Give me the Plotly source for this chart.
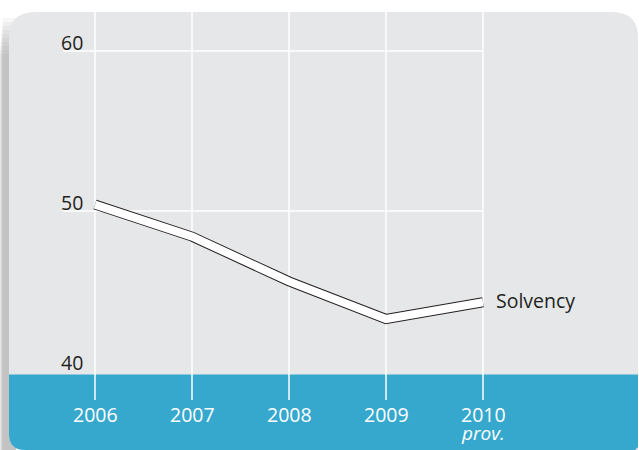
import plotly.graph_objects as go

# Solvency ratio by year (2010 provisional)
years = [2006, 2007, 2008, 2009, 2010]
year_labels = ["2006", "2007", "2008", "2009", "2010"]
solvency = [50.4, 48.4, 45.6, 43.25, 44.3]
y_ticks = [40, 50, 60]
y_grid = [50, 60]
series_name = "Solvency"
provisional_note = "prov."

W, H = 639, 450
GRAY = "#e6e7e9"
BLUE = "#37a8cd"
INK = "#231f20"
FONT = "Open Sans, Noto Sans, sans-serif"
FS = 19.5

# pixel -> paper helpers (plot area covers the whole page)
def px(x):
    return x / W

def py(y):
    return 1 - y / H

# axis scale: 97 px per year, 16 px per unit
x_per_px = 1 / 97.0
y_per_px = 1 / 16.0
x_range = [years[0] - 95 * x_per_px, years[0] + (W - 95) * x_per_px]
y_range = [60 - (H - 51) * y_per_px, 60 + 51 * y_per_px]

fig = go.Figure()

# white ribbon with dark outline
fig.add_trace(go.Scatter(x=years, y=solvency, mode="lines",
                         line=dict(color=INK, width=10), hoverinfo="skip", showlegend=False))
fig.add_trace(go.Scatter(x=years, y=solvency, mode="lines",
                         line=dict(color="white", width=8), hoverinfo="skip", showlegend=False))

shapes = []

# soft drop shadow on the left of the panel, built up from faint layers
for i in range(10):
    shapes.append(dict(type="rect", xref="paper", yref="paper",
                       x0=px(max(0, 3 - i * 0.4)), x1=px(16), y0=0, y1=py(18 + i * 4),
                       fillcolor="#96979a", opacity=0.08, line=dict(width=0), layer="below"))

# panel with rounded corners
L, T, R, B = 9, 12, 638, 450
r = 26
rb = 16
panel = (f"M {px(L)},{py(B - rb)} L {px(L)},{py(T + r)} "
         f"Q {px(L)},{py(T)} {px(L + r)},{py(T)} "
         f"L {px(R - r)},{py(T)} Q {px(R)},{py(T)} {px(R)},{py(T + r)} "
         f"L {px(R)},{py(B)} L {px(L + rb)},{py(B)} "
         f"Q {px(L)},{py(B)} {px(L)},{py(B - rb)} Z")
shapes.append(dict(type="path", xref="paper", yref="paper", path=panel,
                   fillcolor=GRAY, line=dict(width=0), layer="below"))

# blue axis band
band_top = 374.5
band = (f"M {px(L)},{py(band_top)} L {px(R)},{py(band_top)} L {px(R)},{py(B - 3)} "
        f"L {px(R - 3)},{py(B)} L {px(L + rb)},{py(B)} "
        f"Q {px(L)},{py(B)} {px(L)},{py(B - rb)} Z")
shapes.append(dict(type="path", xref="paper", yref="paper", path=band,
                   fillcolor=BLUE, line=dict(width=0), layer="below"))

# vertical gridlines at each year
for yr in years:
    shapes.append(dict(type="line", xref="x", yref="paper", x0=yr, x1=yr,
                       y0=py(T), y1=py(400), line=dict(color="white", width=1.5), layer="below"))

# horizontal gridlines
for v in y_grid:
    shapes.append(dict(type="line", xref="x", yref="y", x0=years[0] - 32 * x_per_px,
                       x1=years[-1], y0=v, y1=v,
                       line=dict(color="white", width=1.5), layer="below"))

annotations = []
for v in y_ticks:
    annotations.append(dict(x=years[0], y=v, xref="x", yref="y", text=str(v),
                            showarrow=False, xanchor="right", yanchor="middle",
                            xshift=-10, yshift=9,
                            font=dict(family=FONT, size=FS, color=INK)))

# year labels; the last one carries the provisional note on a second line
base = 14.2  # sets the line spacing between the year and the note
for i, (yr, lab) in enumerate(zip(years, year_labels)):
    txt = f"<span style='font-size:{FS}px'>{lab}</span>"
    if i == len(years) - 1:
        txt += f"<br><i><span style='font-size:{FS - 0.5}px'>{provisional_note}</span></i>"
    annotations.append(dict(x=yr, y=py(399), xref="x", yref="paper", text=txt,
                            showarrow=False, xanchor="center", yanchor="top",
                            font=dict(family=FONT, size=base, color="white")))

annotations.append(dict(x=years[-1], y=solvency[-1], xref="x", yref="y", text=series_name,
                        showarrow=False, xanchor="left", yanchor="middle", xshift=11, yshift=2,
                        font=dict(family=FONT, size=FS, color=INK)))

fig.update_layout(
    width=W, height=H,
    margin=dict(l=0, r=0, t=0, b=0),
    paper_bgcolor="white", plot_bgcolor="rgba(0,0,0,0)",
    xaxis=dict(range=x_range, visible=False, fixedrange=True),
    yaxis=dict(range=y_range, visible=False, fixedrange=True),
    shapes=shapes, annotations=annotations,
    showlegend=False,
)

fig.write_html("out.html", config={"displayModeBar": False})
